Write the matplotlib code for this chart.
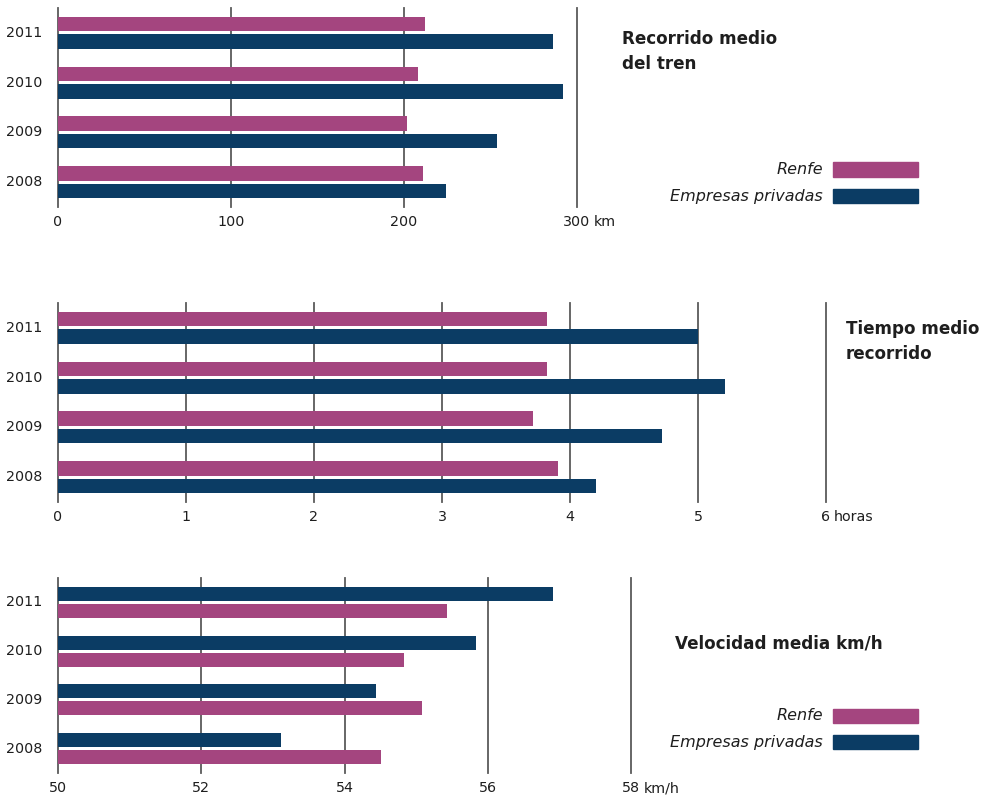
import matplotlib
matplotlib.use("Agg")
import matplotlib.pyplot as plt
from matplotlib.patches import Rectangle

plt.rcParams['font.family'] = ['DejaVu Sans']

# Data
years = ['2008', '2009', '2010', '2011']

recorrido_renfe = [211, 202, 208, 212]
recorrido_privadas = [224, 254, 292, 286]
recorrido_ticks = [0, 100, 200, 300]
recorrido_labels = ['0', '100', '200', '300']

tiempo_renfe = [3.91, 3.71, 3.82, 3.82]
tiempo_privadas = [4.20, 4.72, 5.21, 5.00]
tiempo_ticks = [0, 1, 2, 3, 4, 5, 6]
tiempo_labels = ['0', '1', '2', '3', '4', '5', '6']

velocidad_renfe = [54.51, 55.08, 54.83, 55.43]
velocidad_privadas = [53.11, 54.44, 55.84, 56.91]
velocidad_ticks = [50, 52, 54, 56, 58]
velocidad_labels = ['50', '52', '54', '56', '58']

RENFE = '#a4457f'
PRIV = '#0b3c64'
GRID = '#5a5a5a'
TXT = '#1e1e1e'

W, H = 982, 801
fig = plt.figure(figsize=(W / 100, H / 100), dpi=100)


def px_axes(x0, y0, x1, y1):
    """ Axes from pixel box (top-left origin). """
    return fig.add_axes([x0 / W, 1 - y1 / H, (x1 - x0) / W, (y1 - y0) / H])


def panel(ax, renfe, priv, ticks, labels, unit, base, renfe_top=True):
    ypos = list(range(len(years)))
    h = 0.29
    off = 0.175
    s = 1 if renfe_top else -1
    ax.barh([y + s * off for y in ypos], [v - base for v in renfe], left=base,
            height=h, color=RENFE, zorder=3)
    ax.barh([y - s * off for y in ypos], [v - base for v in priv], left=base,
            height=h, color=PRIV, zorder=3)
    for t in ticks:
        ax.axvline(t, color=GRID, lw=1.3, zorder=2, clip_on=False)
    ax.set_xlim(ticks[0], ticks[-1])
    ax.set_ylim(-0.5, len(years) - 0.5)
    for sp in ax.spines.values():
        sp.set_visible(False)
    ax.set_xticks([])
    ax.set_yticks([])
    # year labels
    for y, lab in zip(ypos, years):
        ax.annotate(lab, xy=(0, y), xycoords=('axes fraction', 'data'),
                    xytext=(-11, 0), textcoords='offset points',
                    ha='right', va='center', fontsize=10.3, color=TXT)
    # tick labels
    last = None
    for t, lab in zip(ticks, labels):
        last = ax.annotate(lab, xy=(t, 0), xycoords=('data', 'axes fraction'),
                           xytext=(0, -11), textcoords='offset points',
                           ha='center', va='center', fontsize=10.3, color=TXT)
    # unit after the last number
    ax.annotate(unit, xy=(1, 0.5), xycoords=last, xytext=(2.6, 0),
                textcoords='offset points', ha='left', va='center',
                fontsize=10.3, color=TXT)


def legend(y_renfe, y_priv):
    for y, lab, c in [(y_renfe, 'Renfe', RENFE), (y_priv, 'Empresas privadas', PRIV)]:
        fig.add_artist(Rectangle((833 / W, 1 - (y + 7) / H), 85 / W, 14 / H,
                                 transform=fig.transFigure, color=c))
        fig.text(823 / W, 1 - y / H, lab, ha='right', va='center',
                 fontsize=11.5, style='italic', color=TXT)


ax1 = px_axes(58, 8, 577, 207)
panel(ax1, recorrido_renfe, recorrido_privadas, recorrido_ticks, recorrido_labels, 'km', 0)
fig.text(622 / W, 1 - 51.5 / H, 'Recorrido medio\ndel tren', ha='left', va='center',
         fontsize=12.1, fontweight='bold', color=TXT, linespacing=1.45)
legend(169.5, 196)

ax2 = px_axes(58, 303, 826, 502)
panel(ax2, tiempo_renfe, tiempo_privadas, tiempo_ticks, tiempo_labels, 'horas', 0)
fig.text(846 / W, 1 - 341.5 / H, 'Tiempo medio\nrecorrido', ha='left', va='center',
         fontsize=12.1, fontweight='bold', color=TXT, linespacing=1.45)

ax3 = px_axes(58, 578, 631, 773)
panel(ax3, velocidad_renfe, velocidad_privadas, velocidad_ticks, velocidad_labels,
      'km/h', 50, renfe_top=False)
fig.text(675 / W, 1 - 643 / H, 'Velocidad media km/h', ha='left', va='center',
         fontsize=12.1, fontweight='bold', color=TXT)
legend(715.5, 742)

fig.savefig('out.png', dpi=100, facecolor='white')
